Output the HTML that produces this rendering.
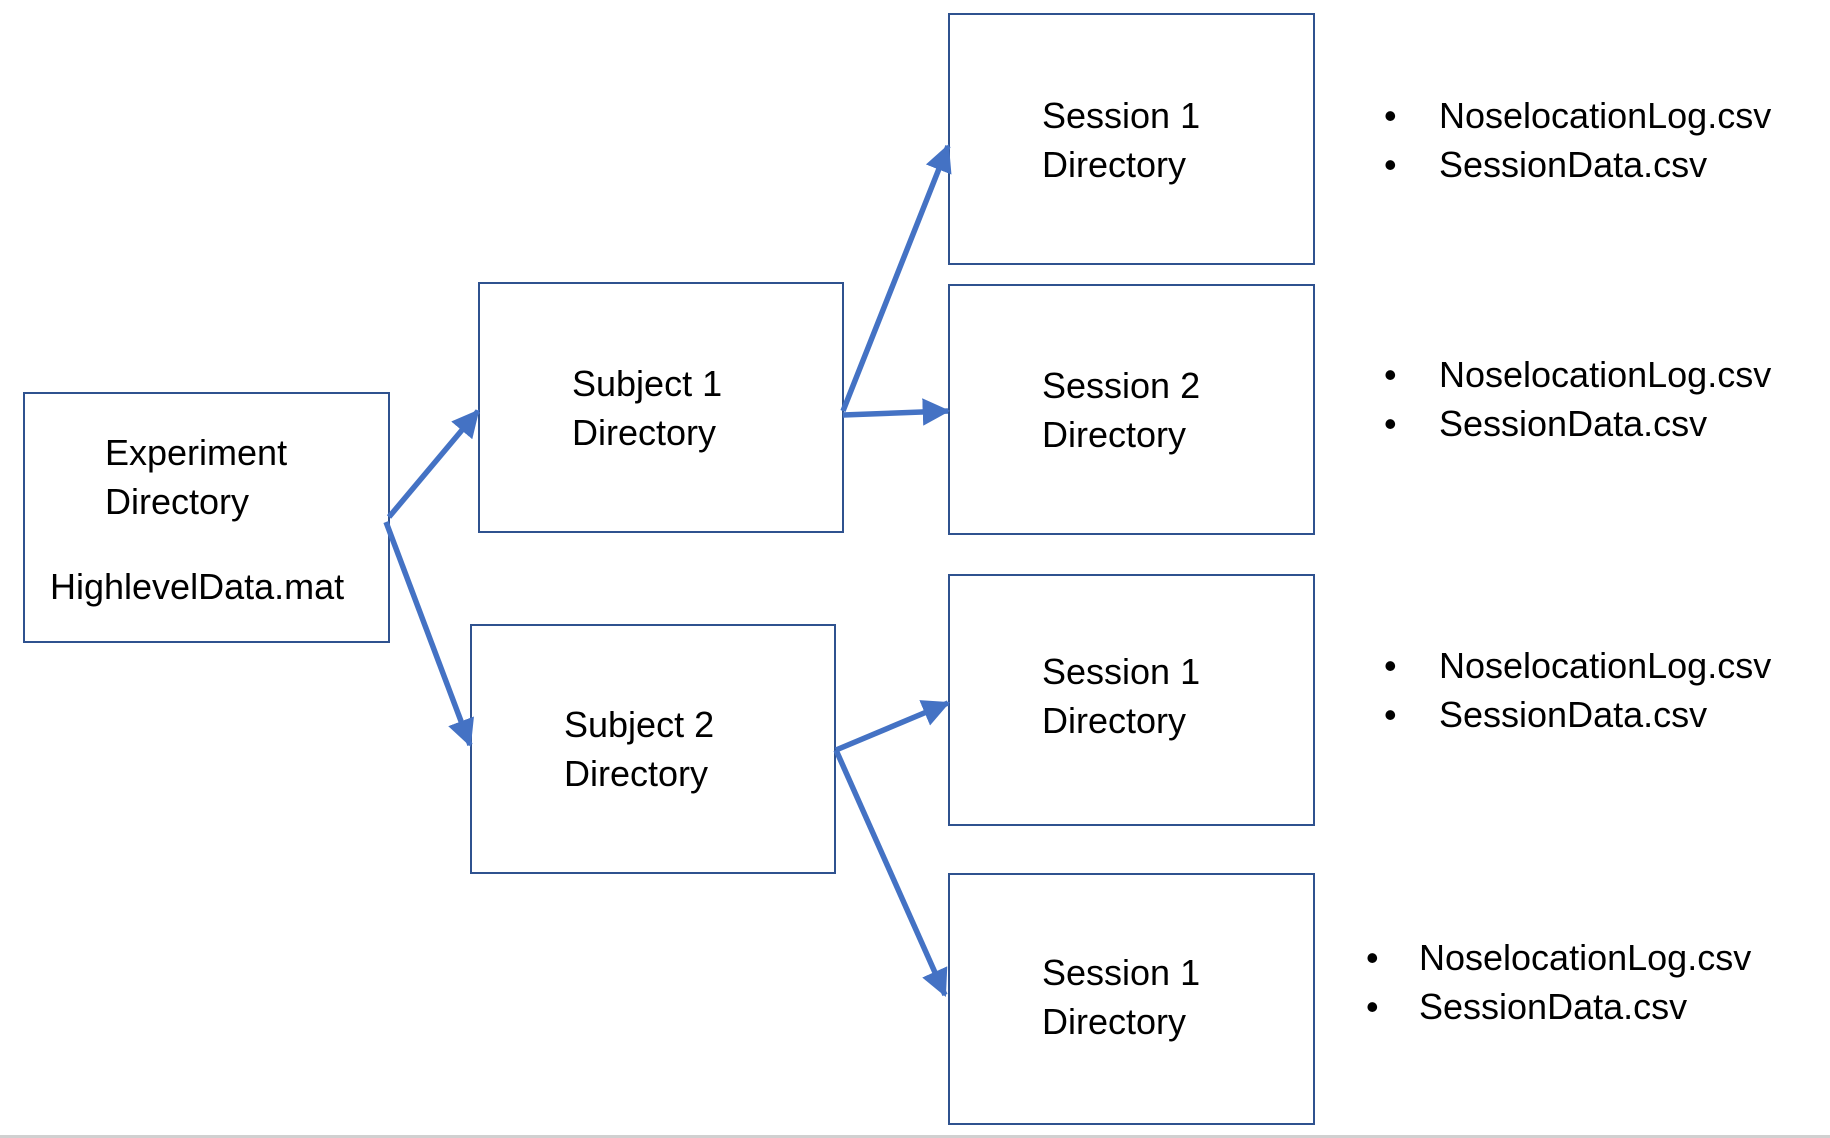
<!DOCTYPE html>
<html><head><meta charset="utf-8"><style>
html,body{margin:0;padding:0;background:#fff;}
svg{display:block}
text{font-family:"Liberation Sans",sans-serif;font-size:36px;fill:#000;}
</style></head><body>
<svg width="1830" height="1138" viewBox="0 0 1830 1138" xmlns="http://www.w3.org/2000/svg">
<defs>
<marker id="a" markerWidth="5" markerHeight="5" refX="4.6" refY="2.5" orient="auto" markerUnits="strokeWidth">
<path d="M0,0 L5,2.5 L0,5 z" fill="#4472C4"/>
</marker>
</defs>
<rect x="0" y="1135" width="1830" height="3" fill="#d0d0d0"/>
<g fill="none" stroke="#2F528F" stroke-width="2">
<rect x="24" y="393" width="365" height="249"/>
<rect x="479" y="283" width="364" height="249"/>
<rect x="471" y="625" width="364" height="248"/>
<rect x="949" y="14" width="365" height="250"/>
<rect x="949" y="285" width="365" height="249"/>
<rect x="949" y="575" width="365" height="250"/>
<rect x="949" y="874" width="365" height="250"/>
</g>
<g stroke="#4472C4" stroke-width="5.5" fill="none" marker-end="url(#a)">
<line x1="389" y1="517" x2="478" y2="411"/>
<line x1="386" y1="522" x2="470" y2="745"/>
<line x1="843" y1="411" x2="948" y2="146"/>
<line x1="843" y1="415" x2="948" y2="411"/>
<line x1="836" y1="750" x2="948" y2="703"/>
<line x1="836" y1="750" x2="945" y2="995"/>
</g>
<text x="105" y="465">Experiment</text>
<text x="105" y="514">Directory</text>
<text x="50" y="599">HighlevelData.mat</text>
<text x="572" y="396">Subject 1</text>
<text x="572" y="445">Directory</text>
<text x="564" y="737">Subject 2</text>
<text x="564" y="786">Directory</text>
<text x="1042" y="128">Session 1</text>
<text x="1042" y="177">Directory</text>
<text x="1042" y="398">Session 2</text>
<text x="1042" y="447">Directory</text>
<text x="1042" y="684">Session 1</text>
<text x="1042" y="733">Directory</text>
<text x="1042" y="985">Session 1</text>
<text x="1042" y="1034">Directory</text>
<g>
<text x="1384" y="128">•</text><text x="1439" y="128">NoselocationLog.csv</text>
<text x="1384" y="177">•</text><text x="1439" y="177">SessionData.csv</text>
<text x="1384" y="387">•</text><text x="1439" y="387">NoselocationLog.csv</text>
<text x="1384" y="436">•</text><text x="1439" y="436">SessionData.csv</text>
<text x="1384" y="678">•</text><text x="1439" y="678">NoselocationLog.csv</text>
<text x="1384" y="727">•</text><text x="1439" y="727">SessionData.csv</text>
<text x="1366" y="970">•</text><text x="1419" y="970">NoselocationLog.csv</text>
<text x="1366" y="1019">•</text><text x="1419" y="1019">SessionData.csv</text>
</g>
</svg>
</body></html>
